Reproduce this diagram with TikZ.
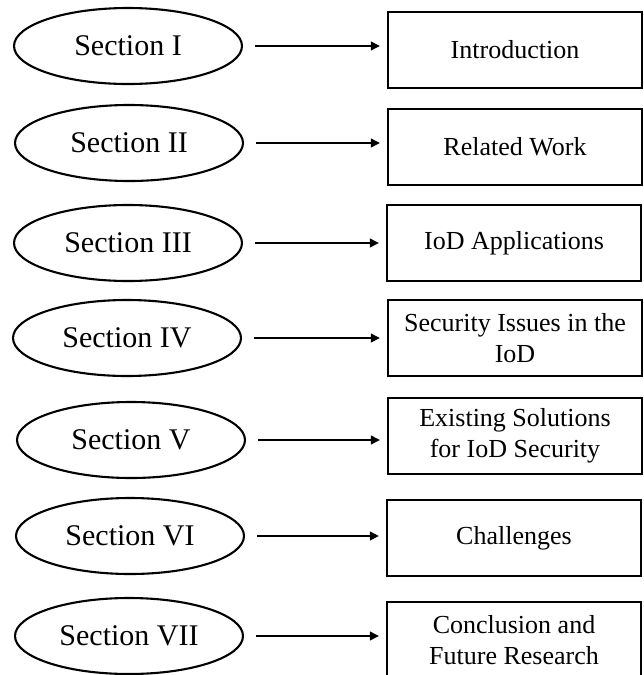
\documentclass[tikz,border=0pt]{standalone}
\usepackage{fontspec}
\setmainfont{Liberation Serif}
\usetikzlibrary{shapes.geometric,arrows.meta}

\tikzset{
  sect/.style={draw, line width=2.1pt, shape=ellipse, minimum width=228pt,
    minimum height=76pt, inner sep=0pt, font=\fontsize{30}{35}\selectfont},
  topic/.style={draw, line width=2.1pt, rectangle, minimum width=254pt,
    minimum height=76pt, inner sep=0pt, align=center,
    font=\fontsize{26}{31}\selectfont},
  conn/.style={line width=2.2pt, -{Triangle[length=9pt,width=8.5pt]},
    shorten <=12pt, shorten >=7pt},
}

\begin{document}
\begin{tikzpicture}[x=1pt,y=-1pt]
  \useasboundingbox (0,0) rectangle (644,675);
  \clip (0,0) rectangle (644,675);

  % section ellipses
  \node[sect] (s1) at (128,46)  {Section I};
  \node[sect] (s2) at (129,143) {Section II};
  \node[sect] (s3) at (128,243) {Section III};
  \node[sect] (s4) at (127,338) {Section IV};
  \node[sect] (s5) at (131,440) {Section V};
  \node[sect] (s6) at (130,536) {Section VI};
  \node[sect] (s7) at (129,636) {Section VII};

  % topic boxes
  \node[topic] (t1) at (515,50)  {Introduction};
  \node[topic] (t2) at (515,147) {Related Work};
  \node[topic] (t3) at (514,243) {IoD Applications};
  \node[topic] (t4) at (515,338) {Security Issues in the\\IoD};
  \node[topic] (t5) at (515,436) {Existing Solutions\\for IoD Security};
  \node[topic] (t6) at (514,538) {Challenges};
  \node[topic] (t7) at (514,640) {Conclusion and\\Future Research};

  % connectors
  \foreach \i in {1,...,7}
    \draw[conn] (s\i.east) -- (s\i.east -| t\i.west);
\end{tikzpicture}
\end{document}
